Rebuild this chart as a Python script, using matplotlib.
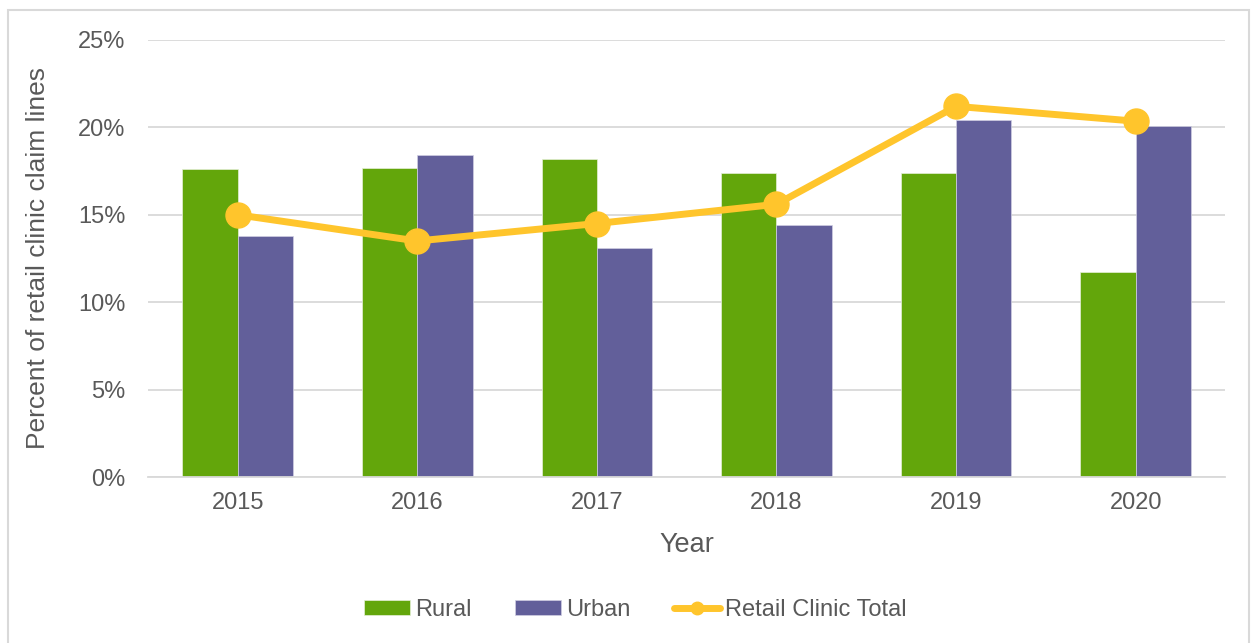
import matplotlib
matplotlib.use("Agg")
import matplotlib.pyplot as plt
import numpy as np
from matplotlib.patches import Rectangle
from matplotlib.ticker import FuncFormatter

# values (percent)
years = ["2015", "2016", "2017", "2018", "2019", "2020"]
rural = [17.6, 17.7, 18.2, 17.4, 17.4, 11.7]
urban = [13.8, 18.4, 13.1, 14.4, 20.4, 20.1]
total = [15.0, 13.5, 14.5, 15.6, 21.2, 20.35]

GREEN = "#63A60B"
PURPLE = "#625F9A"
YELLOW = "#FFC52C"
TEXT = "#595959"

plt.rcParams["font.family"] = ["Liberation Sans", "DejaVu Sans"]

fig = plt.figure(figsize=(12.53, 6.43), dpi=100)
ax = fig.add_axes([0.118, 0.258, 0.860, 0.680])

# light frame around the whole chart
fig.patches.append(Rectangle((0.006, -0.01), 0.991, 0.995, transform=fig.transFigure,
                             fill=False, edgecolor="#D9D9D9", linewidth=1.5))

x = np.arange(len(years))
w = 0.308
b1 = ax.bar(x - w / 2, rural, w, color=GREEN, edgecolor="#E6F0D8", linewidth=0.5, label="Rural", zorder=2)
b2 = ax.bar(x + w / 2, urban, w, color=PURPLE, edgecolor="#D0CFE2", linewidth=0.5, label="Urban", zorder=2)
ln, = ax.plot(x, total, color=YELLOW, linewidth=5, marker="o", markersize=18,
              label="Retail Clinic Total", zorder=3, solid_capstyle="round")

ax.set_xlim(-0.5, len(years) - 0.5)
ax.set_ylim(0, 25)
ax.set_yticks([0, 5, 10, 15, 20, 25])
ax.yaxis.set_major_formatter(FuncFormatter(lambda v, p: f"{v:.0f}%"))
ax.set_xticks(x)
ax.set_xticklabels(years)
ax.grid(axis="y", color="#D9D9D9", linewidth=1.3, zorder=0)
ax.set_axisbelow(True)
for s in ["top", "right", "left"]:
    ax.spines[s].set_visible(False)
ax.spines["bottom"].set_color("#D9D9D9")
ax.spines["bottom"].set_linewidth(1.3)
ax.tick_params(length=0, labelsize=17, labelcolor=TEXT, pad=11)
ax.tick_params(axis="y", pad=16)

ax.set_xlabel("Year", fontsize=19.5, color=TEXT, labelpad=13)
ax.set_ylabel("Percent of retail clinic claim lines", fontsize=19, color=TEXT, labelpad=20)

leg = fig.legend([b1, b2, ln], ["Rural", "Urban", "Retail Clinic Total"],
                 loc="center", bbox_to_anchor=(0.507, 0.051), ncol=3, frameon=False,
                 fontsize=17, handlelength=1.95, handleheight=0.6, columnspacing=1.85,
                 handletextpad=0.2, markerscale=0.5)
for t in leg.get_texts():
    t.set_color(TEXT)

fig.savefig("out.png", dpi=100)
